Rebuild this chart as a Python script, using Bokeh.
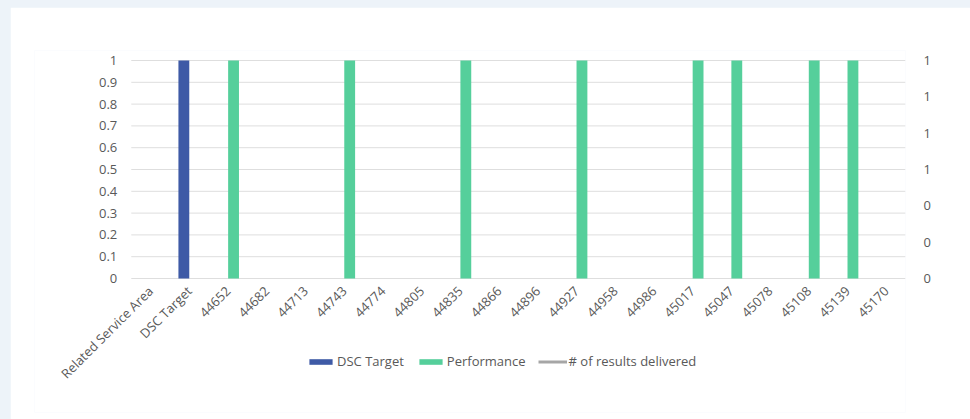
from bokeh.plotting import figure
from bokeh.models import (ColumnDataSource, FixedTicker, CustomJSTickFormatter,
                          LinearAxis, Legend, LegendItem, Range1d)
from bokeh.embed import file_html
from bokeh.resources import INLINE
import math

categories = ["Related Service Area", "DSC Target", "44652", "44682", "44713", "44743", "44774",
              "44805", "44835", "44866", "44896", "44927", "44958", "44986", "45017", "45047",
              "45078", "45108", "45139", "45170"]
dsc_target = [0, 1, 0, 0, 0, 0, 0, 0, 0, 0, 0, 0, 0, 0, 0, 0, 0, 0, 0, 0]
performance = [0, 0, 1, 0, 0, 1, 0, 0, 1, 0, 0, 1, 0, 0, 1, 1, 0, 1, 1, 0]
results_delivered = [float("nan")] * 20

left_ticks = [0, 0.1, 0.2, 0.3, 0.4, 0.5, 0.6, 0.7, 0.8, 0.9, 1]
left_labels = ["0", "0.1", "0.2", "0.3", "0.4", "0.5", "0.6", "0.7", "0.8", "0.9", "1"]
right_ticks = [0, 1 / 6, 2 / 6, 0.5, 4 / 6, 5 / 6, 1]
right_labels = ["0", "0", "0", "1", "1", "1", "1"]

FONT = "Open Sans"
TXT = "#595959"
BLUE = "#3E5AA6"
GREEN = "#55CF9B"
GRAY = "#A6A6A6"
GRID = "#DEDEDE"

n = len(categories)
centers = [i + 0.5 for i in range(n)]
src = ColumnDataSource(dict(x=centers,
                            xd=[c - 0.142 for c in centers],
                            xp=[c + 0.142 for c in centers],
                            dsc=dsc_target, perf=performance, res=results_delivered))
grid_src = ColumnDataSource(dict(y=left_ticks, x0=[0] * len(left_ticks), x1=[n] * len(left_ticks)))

# the frame reaches past the data so that the rotated labels, tick labels and the legend are not clipped
p = figure(x_range=Range1d(-2.5, n), y_range=Range1d(-134 / 218, 1 + 10 / 218), width=960, height=412,
           output_backend="svg", toolbar_location=None,
           min_border_left=24, min_border_right=65, min_border_top=43, min_border_bottom=7)
p.outline_line_color = None
p.background_fill_color = "white"
p.border_fill_color = "white"
p.xgrid.grid_line_color = None
p.ygrid.grid_line_color = None

p.segment(x0="x0", x1="x1", y0="y", y1="y", source=grid_src, line_color=GRID, line_width=1)
r1 = p.vbar(x="xd", top="dsc", width=0.28, source=src, fill_color=BLUE, line_color=None)
r2 = p.vbar(x="xp", top="perf", width=0.28, source=src, fill_color=GREEN, line_color=None)
r3 = p.line(x="x", y="res", source=src, line_color=GRAY, line_width=3)

fmt_code = """
let best = 0, bd = 1e9;
for (let i = 0; i < tv.length; i++) { const d = Math.abs(tv[i] - tick); if (d < bd) { bd = d; best = i; } }
return tl[best];
"""

p.yaxis.ticker = FixedTicker(ticks=left_ticks)
p.yaxis.formatter = CustomJSTickFormatter(args=dict(tv=left_ticks, tl=left_labels), code=fmt_code)
p.yaxis.fixed_location = 0
p.xaxis.ticker = FixedTicker(ticks=centers)
p.xaxis.formatter = CustomJSTickFormatter(args=dict(tv=centers, tl=categories), code=fmt_code)
p.xaxis.fixed_location = 0
raxis = LinearAxis(ticker=FixedTicker(ticks=right_ticks),
                   formatter=CustomJSTickFormatter(args=dict(tv=right_ticks, tl=right_labels), code=fmt_code))
p.add_layout(raxis, "right")

for ax in [p.yaxis[0], raxis, p.xaxis[0]]:
    ax.axis_line_color = None
    ax.major_tick_line_color = None
    ax.minor_tick_line_color = None
    ax.major_label_text_font = FONT
    ax.major_label_text_font_size = "13px"
    ax.major_label_text_color = TXT
p.yaxis[0].major_label_standoff = 8
raxis.major_label_standoff = 12
p.xaxis.major_label_orientation = math.pi / 4
p.xaxis.major_label_standoff = 4

legend = Legend(items=[LegendItem(label="DSC Target", renderers=[r1]),
                       LegendItem(label="Performance", renderers=[r2]),
                       LegendItem(label="# of results delivered", renderers=[r3])],
                orientation="horizontal", location=(272, 42),
                glyph_width=29, glyph_height=7, label_height=14, label_standoff=2,
                spacing=12, padding=0, margin=0,
                label_text_font=FONT, label_text_font_size="13px", label_text_color=TXT,
                border_line_color=None, background_fill_alpha=0)
p.add_layout(legend, "center")

html = file_html(p, INLINE)
html = html.replace("</head>", "<style>html,body{background:#EDF3F9 !important;overflow:hidden !important}body{margin:7px 0 0 10px !important;padding:0 !important}</style></head>", 1)
open("out.html", "w").write(html)
